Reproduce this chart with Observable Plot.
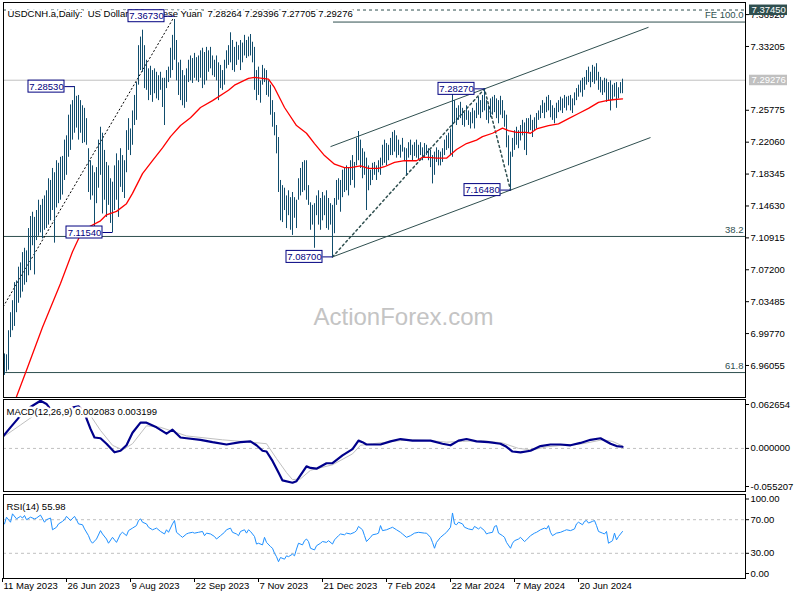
<!DOCTYPE html>
<html><head><meta charset="utf-8">
<script src="https://cdn.jsdelivr.net/npm/d3@7"></script>
<script src="https://cdn.jsdelivr.net/npm/@observablehq/plot@0.6"></script>
<style>
html,body{margin:0;padding:0;background:#fff;}
#chart{position:relative;width:800px;height:600px;overflow:hidden;background:#fff;}
#chart svg{position:absolute;left:0;}
</style></head><body><div id="chart"></div>
<script>
// ---------- data ----------
const titleText = "USDCNH.a,Daily:  US Dollar vs Chinese Yuan  7.28264 7.29396 7.27705 7.29276";
const watermark = "ActionForex.com";
const dateTickBars = [0, 32, 64, 96, 128, 160, 192, 224, 256, 288];
const dateTickLabels = ["11 May 2023","26 Jun 2023","9 Aug 2023","22 Sep 2023","7 Nov 2023","21 Dec 2023","7 Feb 2024","22 Mar 2024","7 May 2024","20 Jun 2024"];
const priceTicks = [6.96055, 6.99770, 7.03485, 7.07200, 7.10915, 7.14630, 7.18345, 7.22060, 7.25775, 7.33205, 7.36920];

const high = [
6.972,6.974,6.973,7.001,7.022,7.036,7.057,7.059,7.075,7.080,
7.092,7.097,7.094,7.120,7.134,7.139,7.133,7.141,7.153,7.147,
7.154,7.158,7.164,7.178,7.176,7.190,7.185,7.199,7.196,7.203,
7.204,7.223,7.228,7.252,7.264,7.269,7.2853,7.274,7.275,7.269,
7.263,7.260,7.248,7.213,7.199,7.193,7.185,7.191,7.223,7.238,
7.231,7.211,7.197,7.193,7.178,7.174,7.193,7.207,7.199,7.213,
7.205,7.199,7.234,7.248,7.236,7.257,7.275,7.290,7.333,7.343,
7.351,7.333,7.316,7.306,7.309,7.304,7.306,7.302,7.298,7.302,
7.295,7.295,7.304,7.308,7.330,7.345,7.3673,7.339,7.313,7.316,
7.304,7.298,7.306,7.316,7.321,7.318,7.324,7.319,7.321,7.327,
7.330,7.325,7.331,7.327,7.331,7.321,7.316,7.321,7.313,7.310,
7.304,7.316,7.327,7.333,7.348,7.339,7.331,7.337,7.333,7.339,
7.336,7.345,7.339,7.343,7.346,7.337,7.331,7.304,7.308,7.292,
7.310,7.306,7.304,7.292,7.287,7.269,7.255,7.240,7.226,7.176,
7.170,7.167,7.158,7.164,7.156,7.162,7.156,7.153,7.178,7.190,
7.197,7.199,7.199,7.170,7.150,7.147,7.149,7.158,7.164,7.155,
7.162,7.158,7.164,7.155,7.149,7.147,7.155,7.176,7.178,7.176,
7.188,7.190,7.193,7.191,7.199,7.205,7.197,7.225,7.233,7.223,
7.213,7.209,7.202,7.193,7.188,7.196,7.197,7.193,7.199,7.202,
7.217,7.223,7.219,7.217,7.225,7.232,7.234,7.228,7.223,7.217,
7.225,7.214,7.213,7.220,7.223,7.217,7.220,7.223,7.217,7.220,
7.214,7.219,7.217,7.213,7.211,7.205,7.209,7.214,7.211,7.209,
7.213,7.223,7.228,7.231,7.236,7.281,7.269,7.260,7.263,7.267,
7.260,7.255,7.263,7.257,7.255,7.260,7.257,7.266,7.273,7.269,
7.275,7.2827,7.269,7.263,7.271,7.273,7.275,7.271,7.269,7.274,
7.269,7.257,7.252,7.228,7.209,7.225,7.234,7.238,7.234,7.240,
7.246,7.243,7.248,7.248,7.252,7.246,7.249,7.254,7.257,7.263,
7.269,7.266,7.273,7.275,7.269,7.263,7.260,7.266,7.269,7.273,
7.271,7.275,7.273,7.274,7.275,7.271,7.278,7.283,7.287,7.292,
7.295,7.296,7.304,7.308,7.302,7.310,7.308,7.312,7.302,7.296,
7.292,7.295,7.294,7.290,7.292,7.287,7.289,7.290,7.284,7.290,
7.29396
];
const low = [
6.948,6.949,6.953,6.955,6.993,7.001,7.006,7.022,7.033,7.039,
7.046,7.054,7.057,7.065,7.071,7.100,7.066,7.106,7.111,7.115,
7.108,7.118,7.120,7.124,7.129,7.141,7.103,7.144,7.149,7.153,
7.159,7.176,7.182,7.203,7.211,7.223,7.231,7.237,7.223,7.231,
7.219,7.220,7.217,7.162,7.153,7.158,7.121,7.149,7.167,7.182,
7.137,7.153,7.133,7.147,7.126,7.1154,7.141,7.153,7.133,7.168,
7.162,7.155,7.185,7.211,7.205,7.217,7.240,7.246,7.287,7.304,
7.302,7.283,7.281,7.269,7.275,7.267,7.277,7.271,7.269,7.281,
7.261,7.240,7.283,7.290,7.295,7.304,7.316,7.292,7.275,7.269,
7.263,7.260,7.267,7.290,7.292,7.289,7.295,7.292,7.290,7.295,
7.283,7.287,7.292,7.302,7.306,7.298,7.296,7.292,7.269,7.283,
7.281,7.287,7.306,7.310,7.313,7.304,7.302,7.310,7.316,7.304,
7.313,7.321,7.318,7.320,7.321,7.313,7.281,7.269,7.275,7.266,
7.287,7.290,7.275,7.273,7.252,7.238,7.228,7.207,7.162,7.129,
7.127,7.141,7.120,7.135,7.118,7.112,7.132,7.120,7.153,7.158,
7.162,7.164,7.153,7.147,7.118,7.124,7.097,7.135,7.124,7.118,
7.129,7.135,7.120,7.118,7.124,7.087,7.114,7.147,7.153,7.139,
7.156,7.162,7.164,7.158,7.170,7.176,7.167,7.193,7.199,7.190,
7.178,7.182,7.141,7.164,7.170,7.176,7.182,7.176,7.185,7.182,
7.193,7.196,7.193,7.199,7.205,7.205,7.209,7.202,7.205,7.202,
7.209,7.199,7.182,7.202,7.205,7.199,7.204,7.202,7.199,7.205,
7.199,7.202,7.205,7.199,7.191,7.172,7.182,7.197,7.193,7.193,
7.197,7.205,7.211,7.213,7.205,7.203,7.243,7.240,7.246,7.248,
7.240,7.238,7.246,7.240,7.236,7.242,7.236,7.248,7.252,7.248,
7.255,7.257,7.246,7.242,7.249,7.252,7.255,7.248,7.242,7.252,
7.248,7.238,7.214,7.193,7.1648,7.203,7.211,7.217,7.213,7.222,
7.228,7.211,7.205,7.231,7.234,7.226,7.234,7.236,7.246,7.248,
7.254,7.248,7.255,7.257,7.249,7.246,7.242,7.248,7.255,7.257,
7.254,7.260,7.257,7.263,7.257,7.254,7.263,7.269,7.273,7.278,
7.273,7.281,7.287,7.290,7.284,7.290,7.288,7.292,7.281,7.278,
7.275,7.278,7.267,7.269,7.257,7.269,7.273,7.260,7.271,7.277,
7.27705
];
const lastClose = 7.29276;

// moving average (bar, value)
const maPoints = [[6,6.918],[12,6.955],[20,7.005],[29,7.056],[35,7.093],[40,7.118],[49,7.129],[52,7.136],[57,7.140],[62,7.149],[65,7.161],[70,7.184],[75,7.199],[80,7.214],[84,7.227],[89,7.240],[94,7.249],[99,7.261],[105,7.269],[113,7.281],[116,7.287],[123,7.295],[126,7.296],[133,7.294],[136,7.284],[141,7.261],[147,7.240],[152,7.231],[156,7.219],[161,7.205],[166,7.195],[171,7.191],[174,7.191],[179,7.193],[183,7.190],[188,7.190],[191,7.192],[196,7.197],[201,7.199],[207,7.199],[210,7.203],[213,7.203],[217,7.202],[222,7.202],[223,7.204],[227,7.212],[232,7.219],[237,7.223],[240,7.227],[245,7.231],[250,7.237],[253,7.234],[257,7.232],[262,7.232],[264,7.231],[267,7.236],[273,7.240],[278,7.242],[283,7.248],[288,7.254],[293,7.260],[298,7.267],[302,7.269],[305,7.270],[310,7.271]];

// annotations
const swingBars = [86, 36, 55, 165, 241, 254];
const swingPrices = [7.36730, 7.28530, 7.11540, 7.08700, 7.28270, 7.16480];
const fibLabels = ["38.2", "61.8"];
const fibValues = [7.1108, 6.9523];
const feLabel = "FE 100.0", feValue = 7.3605, feStartBar = 165.5;
const dashedLevel = 7.37450;
const trendLine = {k1: -84, p1: 6.6958, k2: 86, p2: 7.3673};
const channelLines = [{k1: 165, p1: 7.0870, k2: 324, p2: 7.2260}, {k1: 164, p1: 7.2154, k2: 323, p2: 7.3544}];
const feLegBars = [165, 241, 254];
const feLegPrices = [7.0870, 7.2827, 7.1648];

// MACD
const macdLabel = "MACD(12,26,9) 0.002083 0.003199";
const macdMax = 0.062654, macdMin = -0.055207;
const macdPoints = [[0,0.0145],[4,0.027],[9,0.042],[14,0.053],[19,0.061],[22,0.057],[26,0.043],[30,0.042],[34,0.052],[38,0.054],[41,0.045],[44,0.025],[46,0.014],[49,0.013],[52,0.006],[56,-0.005],[59,-0.003],[62,0.004],[65,0.020],[69,0.033],[72,0.033],[77,0.027],[82,0.019],[85,0.024],[89,0.014],[92,0.013],[99,0.011],[105,0.008],[112,0.005],[119,0.008],[124,0.009],[127,0.004],[130,-0.003],[132,-0.004],[135,-0.016],[138,-0.031],[140,-0.041],[145,-0.044],[147,-0.042],[152,-0.023],[154,-0.025],[157,-0.026],[162,-0.019],[165,-0.019],[170,-0.009],[175,-0.001],[178,0.010],[180,0.008],[182,0.005],[189,0.005],[194,0.009],[199,0.012],[205,0.010],[214,0.010],[220,0.006],[224,0.004],[228,0.010],[232,0.012],[237,0.009],[243,0.008],[249,0.006],[252,0.002],[255,-0.004],[259,-0.005],[264,-0.003],[269,0.003],[274,0.005],[279,0.005],[284,0.004],[289,0.007],[294,0.011],[299,0.013],[304,0.006],[307,0.003],[310,0.002083]];
const signalPoints = [[0,0.014],[9,0.030],[19,0.048],[30,0.051],[38,0.050],[44,0.042],[49,0.023],[55,0.004],[60,-0.002],[65,0.006],[72,0.029],[79,0.027],[85,0.022],[92,0.016],[110,0.011],[124,0.008],[132,0.006],[137,-0.013],[142,-0.031],[145,-0.040],[149,-0.039],[154,-0.028],[165,-0.021],[175,-0.007],[179,0.004],[185,0.006],[199,0.010],[205,0.011],[214,0.010],[222,0.008],[230,0.009],[240,0.010],[250,0.007],[258,0.000],[265,-0.002],[272,0.002],[280,0.004],[290,0.006],[300,0.011],[305,0.009],[310,0.003199]];

// RSI
const rsiLabel = "RSI(14) 55.98";
const rsiLevels = [30, 70];
const rsiTicks = [100, 70, 30, 0];
const rsiPoints = [[1,65],[2,73],[4,67],[5,77],[7,71],[9,74],[10,72],[11,75],[12,70],[14,73],[16,71],[17,72],[19,75.5],[21,67],[22,70],[24,72],[25,58],[27,61],[28,65],[30,68],[31,70],[32,74],[34,69],[36,74],[37,70],[38,65],[40,64],[41,59],[43,51],[44,45],[45,42],[47,47],[49,57],[50,53],[52,47],[53,42],[55,49],[56,46],[57,43],[59,53],[60,55],[62,51],[63,57],[65,60],[67,63],[68,69],[69,71],[70,67],[72,65],[73,61],[75,58],[76,59],[77,60],[79,56],[81,53],[82,58],[83,55],[85,65],[86,69],[87,55],[89,51],[90,49],[92,53],[93,54],[95,55],[96,54],[98,55],[100,56],[101,51],[102,54],[104,53],[106,50],[107,47],[109,51],[111,55],[112,58],[114,60],[115,55],[117,53],[118,51],[119,56],[121,58],[122,54],[123,58],[124,56],[126,50],[127,41],[128,42],[130,40],[131,49],[132,43],[134,38],[135,36],[136,30],[137,26],[138,20],[139,25],[141,23],[142,27],[143,26],[145,29],[146,27],[147,35],[148,42],[150,40],[151,45],[152,47],[153,44],[154,36],[156,34],[157,39],[159,42],[160,44],[162,43],[163,45],[165,41],[166,46],[168,51],[169,53],[171,52],[172,54],[174,53],[176,55],[177,57],[178,62],[180,58],[181,51],[182,44],[184,49],[185,52],[187,53],[188,54],[189,63],[190,57],[192,58],[194,60],[195,61],[197,58],[199,55],[200,53],[202,49],[204,51],[206,54],[208,55],[211,54],[212,54],[214,49],[215,43],[216,36],[217,43],[219,49],[221,53],[222,55],[224,61],[225,78],[226,65],[227,64],[228,67],[230,65],[231,61],[233,59],[235,58],[236,62],[238,59],[239,61],[241,57],[242,53],[243,54],[245,55],[246,62],[247,63],[248,54],[250,51],[251,49],[252,43],[254,36],[255,42],[256,45],[258,47],[259,49],[261,44],[262,46],[264,51],[266,54],[267,55],[269,58],[271,60],[272,59],[273,63],[274,55],[275,51],[277,54],[279,55],[281,57],[282,58],[284,57],[286,59],[287,65],[288,67],[290,64],[291,68],[292,69],[293,66],[295,68],[296,69],[297,63],[298,56],[300,54],[301,53],[302,56],[303,42],[305,45],[306,54],[307,46],[308,50],[310,55.98]];

// ---------- rendering ----------
const XDOM = [0.5, 371.5];
const FONT = '"Liberation Sans", Arial, sans-serif';
const BAR = "#114d6d";
const SLATE = "#2f4f4f";
const NAVY = "#000080";
const style = {fontFamily: FONT, fontSize: "9.5px", color: "black", background: "transparent", overflow: "visible"};
const common = {width: 800, marginLeft: 3, marginRight: 55, x: {domain: XDOM, axis: null}, style};

const bars = high.map((h, i) => ({k: i, h, l: low[i]}));
const swings = swingBars.map((k, i) => ({k, p: swingPrices[i]}));
const fibs = fibLabels.map((label, i) => ({label, value: fibValues[i]}));
const fe = [{label: feLabel, value: feValue, k: feStartBar}];
const feLeg = feLegBars.map((k, i) => [k, feLegPrices[i]]);
const highlights = [{v: dashedLevel, bg: "#2f4f4f"}, {v: lastClose, bg: "#c0c0c0"}];
const pxPrice = 0.0011646; // price per pixel in main panel

const chart = document.getElementById("chart");
function place(svg, top) { svg.style.top = top + "px"; chart.appendChild(svg); }

const mainPlot = Plot.plot({
  ...common, height: 400, marginTop: 2, marginBottom: 3,
  y: {domain: [6.92325, 7.38327], axis: null},
  marks: [
    Plot.text([watermark], {text: d => d, frameAnchor: "middle", dx: 29, dy: 117, fontSize: 24, fill: "#c4c4c4"}),
    Plot.ruleY(fibs, {y: "value", stroke: SLATE}),
    Plot.text(fibs, {y: "value", text: "label", frameAnchor: "right", textAnchor: "end", dx: -2, dy: -7, fill: SLATE}),
    Plot.ruleY([lastClose], {stroke: "#c0c0c0"}),
    Plot.ruleY([dashedLevel], {stroke: SLATE, strokeDasharray: "3,3"}),
    Plot.ruleY(fe, {y: "value", x1: "k", x2: () => XDOM[1], stroke: SLATE}),
    Plot.text(fe, {y: "value", text: "label", frameAnchor: "right", textAnchor: "end", dx: -2, dy: -7, fill: SLATE}),
    Plot.link([trendLine], {x1: "k1", y1: "p1", x2: "k2", y2: "p2", stroke: "black", strokeDasharray: "2,2", clip: true}),
    Plot.link(channelLines, {x1: "k1", y1: "p1", x2: "k2", y2: "p2", stroke: SLATE, clip: true}),
    Plot.line(feLeg, {x: d => d[0], y: d => d[1], stroke: SLATE, strokeDasharray: "2,3", clip: true}),
    Plot.ruleX(bars, {x: "k", y1: "l", y2: "h", stroke: BAR, clip: true}),
    Plot.line(maPoints, {x: d => d[0], y: d => d[1], stroke: "#ff0000", strokeWidth: 1.3, clip: true}),
    Plot.text([titleText], {text: d => d, frameAnchor: "top-left", dx: 4, dy: 7.5, textAnchor: "start", fill: "black", stroke: "white", strokeWidth: 4}),
    Plot.link(swings, {x1: d => d.k - 5, x2: "k", y1: "p", y2: "p", stroke: NAVY}),
    Plot.rect(swings, {x1: d => d.k - 23, x2: d => d.k - 5, y1: d => d.p - 6 * pxPrice, y2: d => d.p + 6 * pxPrice, fill: "white", stroke: NAVY}),
    Plot.text(swings, {x: d => d.k - 14, y: "p", text: d => d.p.toFixed(5), fill: NAVY}),
    Plot.axisY(priceTicks, {anchor: "right", tickSize: 3, tickPadding: 2, tickFormat: d => d.toFixed(5), label: null}),
    Plot.rect(highlights, {x1: () => XDOM[1] + 2, x2: () => XDOM[1] + 21, y1: d => d.v - 5.5 * pxPrice, y2: d => d.v + 5 * pxPrice, fill: "bg"}),
    Plot.text(highlights, {x: () => XDOM[1] + 2, y: "v", text: d => d.v.toFixed(5), textAnchor: "start", dx: 2, fill: "white"}),
    Plot.frame({stroke: "black"})
  ]
});
place(mainPlot, 0);

const macdPlot = Plot.plot({
  ...common, height: 95, marginTop: 1, marginBottom: 2,
  y: {domain: [macdMin, macdMax], axis: null},
  marks: [
    Plot.ruleY([0], {stroke: "#c0c0c0", strokeDasharray: "3,3"}),
    Plot.line(signalPoints, {x: d => d[0], y: d => d[1], stroke: "#c0c0c0", strokeWidth: 1, clip: true}),
    Plot.line(macdPoints, {x: d => d[0], y: d => d[1], stroke: "#00008b", strokeWidth: 2.2, clip: true}),
    Plot.text([macdLabel], {text: d => d, frameAnchor: "top-left", dx: 3, dy: 9, textAnchor: "start", fill: "black", stroke: "white", strokeWidth: 5}),
    Plot.axisY([macdMax], {anchor: "right", tickSize: 3, tickPadding: 2, tickFormat: d => d.toFixed(6), dy: 5, label: null}),
    Plot.axisY([0], {anchor: "right", tickSize: 3, tickPadding: 2, tickFormat: d => d.toFixed(6), label: null}),
    Plot.axisY([macdMin], {anchor: "right", tickSize: 3, tickPadding: 2, tickFormat: d => d.toFixed(6), dy: -5, label: null}),
    Plot.frame({stroke: "black"})
  ]
});
place(macdPlot, 398);

const dateTicks = dateTickBars.map((k, i) => ({k, label: dateTickLabels[i]}));
const rsiPlot = Plot.plot({
  ...common, height: 107, marginTop: 1, marginBottom: 22,
  y: {domain: [0, 100], axis: null},
  marks: [
    Plot.ruleY(rsiLevels, {stroke: "#c0c0c0", strokeDasharray: "3,3"}),
    Plot.line(rsiPoints, {x: d => d[0], y: d => d[1], stroke: "#1e90ff", strokeWidth: 1, clip: true}),
    Plot.text([rsiLabel], {text: d => d, frameAnchor: "top-left", dx: 3, dy: 9, textAnchor: "start", fill: "black", stroke: "white", strokeWidth: 4}),
    Plot.axisY([rsiTicks[0]], {anchor: "right", tickSize: 3, tickPadding: 2, tickFormat: d => d.toFixed(2), dy: 4.5, label: null}),
    Plot.axisY([rsiTicks[1], rsiTicks[2]], {anchor: "right", tickSize: 3, tickPadding: 2, tickFormat: d => d.toFixed(2), label: null}),
    Plot.axisY([rsiTicks[3]], {anchor: "right", tickSize: 3, tickPadding: 2, tickFormat: d => d.toFixed(2), dy: -5, label: null}),
    Plot.axisX(dateTickBars, {anchor: "bottom", tickSize: 4, tickFormat: () => "", label: null}),
    Plot.text(dateTicks, {x: "k", text: "label", frameAnchor: "bottom", textAnchor: "start", dx: 1, dy: 10.5}),
    Plot.frame({stroke: "black"})
  ]
});
place(rsiPlot, 493);
</script>
</body></html>
